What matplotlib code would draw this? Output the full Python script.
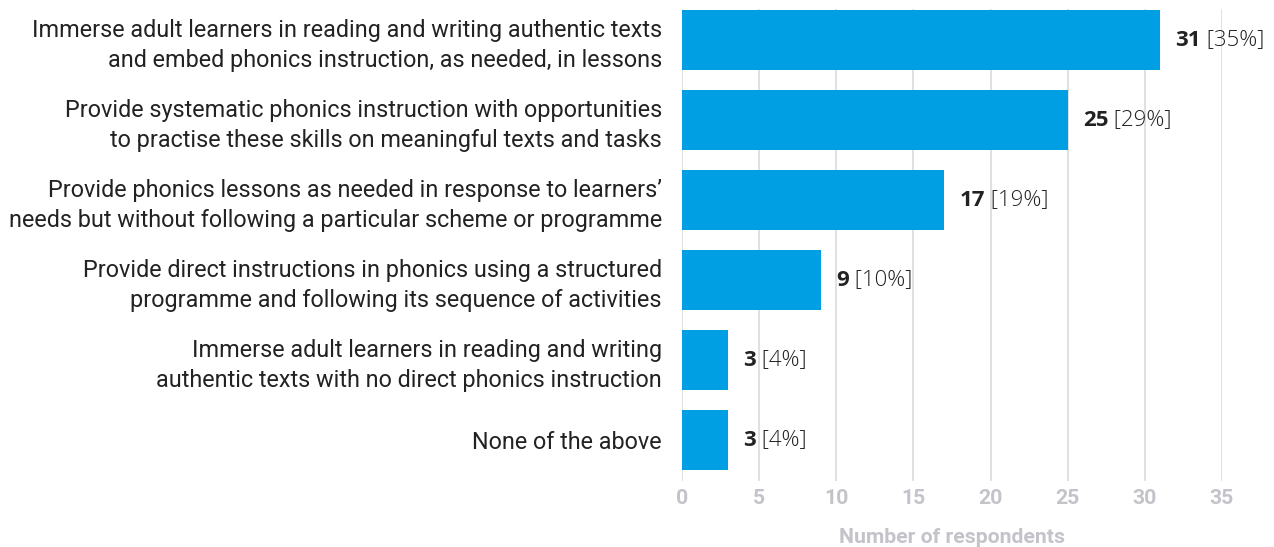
import matplotlib.pyplot as plt

plt.rcParams['font.family'] = ['Roboto', 'DejaVu Sans']

# survey answers, top to bottom
labels = [
    'Immerse adult learners in reading and writing authentic texts\nand embed phonics instruction, as needed, in lessons',
    'Provide systematic phonics instruction with opportunities\nto practise these skills on meaningful texts and tasks',
    'Provide phonics lessons as needed in response to learners\u2019\nneeds but without following a particular scheme or programme',
    'Provide direct instructions in phonics using a structured\nprogramme and following its sequence of activities',
    'Immerse adult learners in reading and writing\nauthentic texts with no direct phonics instruction',
    'None of the above',
]
counts = [31, 25, 17, 9, 3, 3]
percents = [35, 29, 19, 10, 4, 4]
xticks = [0, 5, 10, 15, 20, 25, 30, 35]

W, H = 1274, 547
fig = plt.figure(figsize=(W / 100, H / 100), dpi=100)
ax = fig.add_axes([682 / W, (H - 481) / H, 540 / W, 472 / H])

pos = list(range(len(labels)))
ax.barh(pos, counts, height=0.74, color='#009fe3', zorder=2)

ax.set_xlim(0, 35)
ax.set_ylim(5.5125, -0.3875)
ax.set_xticks(xticks)
ax.set_yticks(pos)
ax.set_yticklabels(labels, fontsize=16.8, color='#222222', linespacing=1.35)
ax.tick_params(axis='y', length=0, pad=14.4)
ax.tick_params(axis='x', length=0, pad=6, labelsize=15.3, labelcolor='#c3c3ca')
for lbl in ax.get_xticklabels():
    lbl.set_fontweight('bold')

ax.grid(axis='x', color='#dadada', linewidth=1.2, zorder=0)
ax.grid(axis='y', visible=False)
for s in ax.spines.values():
    s.set_visible(False)

ax.set_xlabel('Number of respondents', fontsize=15.3, fontweight='bold',
              color='#c3c3ca', labelpad=14)

# value labels: bold count followed by light percentage
vfont = ['Open Sans', 'DejaVu Sans']
for y, c, p in zip(pos, counts, percents):
    t = ax.annotate(str(c), xy=(c, y), xytext=(11, 0), textcoords='offset points',
                    va='center', ha='left', fontsize=16, fontweight='bold',
                    family=vfont, color='#222222', zorder=3)
    ax.annotate(' [%d%%]' % p, xy=(1, 0), xycoords=t, va='bottom', ha='left',
                fontsize=16, fontweight='light', family=vfont,
                color='#222222', zorder=3)

fig.savefig('out.png', dpi=100)
